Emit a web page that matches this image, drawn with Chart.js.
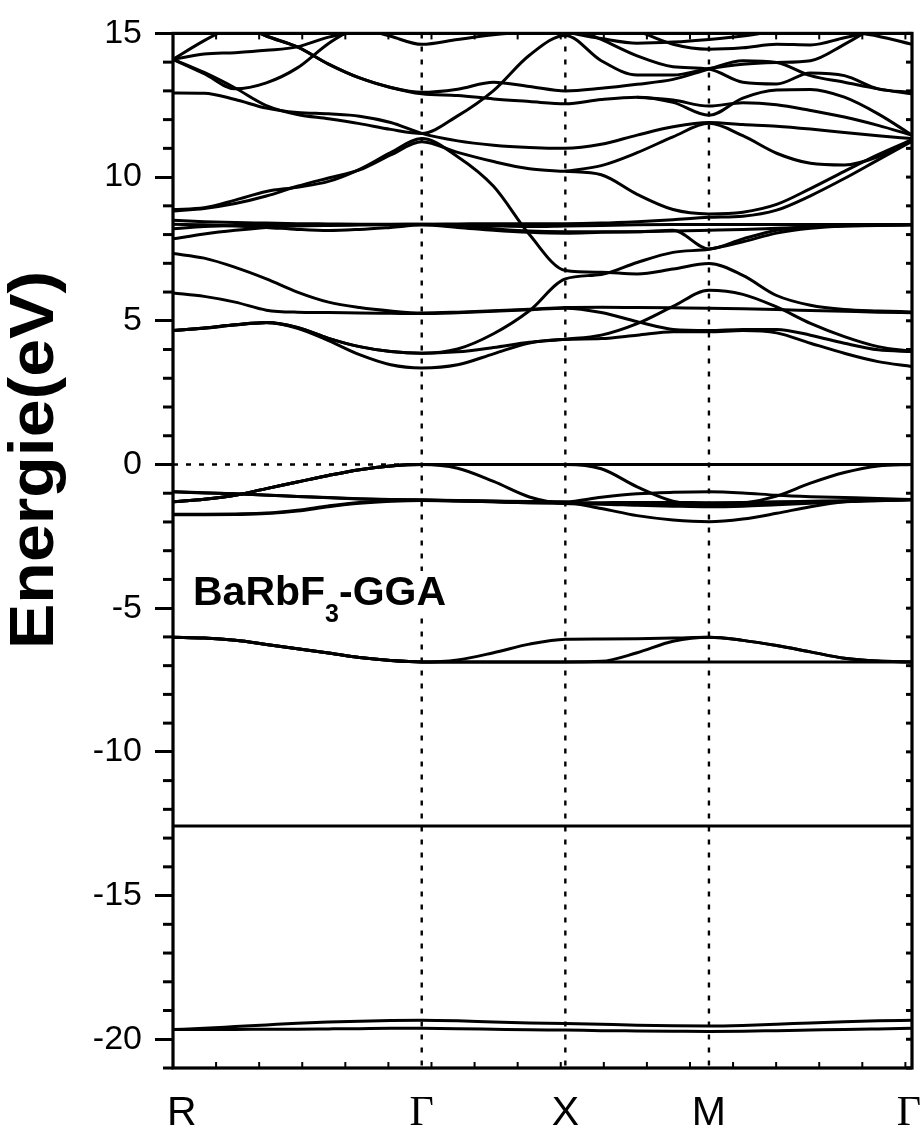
<!DOCTYPE html>
<html>
<head>
<meta charset="utf-8">
<title>BaRbF3 band structure</title>
<script src="https://cdn.jsdelivr.net/npm/chart.js@4.4.1/dist/chart.umd.min.js"></script>
<style>
  html, body { margin: 0; padding: 0; background: #fff; }
  canvas { display: block; }
</style>
</head>
<body>
<canvas id="bands" width="921" height="1129"></canvas>
<script>
// k-path R - Γ - X - M - Γ (units of 2π/a), sample positions along the path
const kPath = [0, 0.217, 0.433, 0.65, 0.866, 1.083, 1.299, 1.516, 1.732,
               1.982, 2.232, 2.482, 2.732,
               2.982, 3.232, 3.482, 3.732,
               3.968, 4.203, 4.439, 4.675, 4.910, 5.146];
const kSym = [0, 1.732, 2.732, 3.732, 5.146];
const kLabels = ['R', 'Γ', 'X', 'M', 'Γ'];
const yTicks = [-20, -15, -10, -5, 0, 5, 10, 15];

// semi-core levels
const core1 = [-19.66,-19.66,-19.66,-19.65,-19.65,-19.64,-19.63,-19.62,-19.62, -19.63,-19.65,-19.67,-19.68, -19.70,-19.71,-19.72,-19.73, -19.72,-19.70,-19.68,-19.66,-19.64,-19.62];
const core2 = [-19.66,-19.62,-19.56,-19.50,-19.44,-19.40,-19.37,-19.35,-19.34, -19.36,-19.40,-19.43,-19.45, -19.48,-19.51,-19.53,-19.54, -19.52,-19.48,-19.43,-19.39,-19.36,-19.34];
const core3 = [-12.58,-12.58,-12.58,-12.58,-12.58,-12.58,-12.58,-12.58,-12.58, -12.58,-12.58,-12.58,-12.58, -12.58,-12.58,-12.58,-12.58, -12.58,-12.58,-12.58,-12.58,-12.58,-12.58];

// F 2s-like group around -6 eV
const s1 = [-6.01,-6.04,-6.12,-6.26,-6.41,-6.56,-6.72,-6.82,-6.87, -6.87,-6.87,-6.87,-6.87, -6.87,-6.87,-6.87,-6.87, -6.87,-6.87,-6.87,-6.87,-6.87,-6.87];
const s2 = [-6.01,-6.04,-6.12,-6.26,-6.41,-6.56,-6.72,-6.82,-6.87, -6.80,-6.55,-6.25,-6.08, -6.07,-6.06,-6.04,-6.01, -6.12,-6.30,-6.52,-6.74,-6.84,-6.87];
const s3 = [-6.01,-6.04,-6.12,-6.26,-6.41,-6.56,-6.72,-6.82,-6.87, -6.87,-6.87,-6.87,-6.87, -6.85,-6.55,-6.15,-6.01, -6.12,-6.30,-6.52,-6.74,-6.84,-6.87];

// valence bands
const v1 = [-1.30,-1.21,-1.07,-0.84,-0.61,-0.38,-0.18,-0.05,0, 0,0,0,0, 0,0,0,0, 0,0,0,0,0,0];
const v2 = [-1.30,-1.21,-1.07,-0.84,-0.61,-0.38,-0.18,-0.05,0, -0.13,-0.59,-1.13,-1.36, -1.38,-1.42,-1.45,-1.47, -1.45,-1.40,-1.35,-1.30,-1.26,-1.22];
const v3 = [-1.30,-1.21,-1.07,-0.84,-0.61,-0.38,-0.18,-0.05,0, 0,0,0,0, -0.15,-0.78,-1.28,-1.41, -1.35,-1.10,-0.65,-0.28,-0.05,0];
const v4 = [-0.95,-0.99,-1.02,-1.07,-1.11,-1.16,-1.20,-1.22,-1.24, -1.25,-1.27,-1.29,-1.30, -1.14,-1.02,-0.97,-0.95, -0.99,-1.07,-1.12,-1.15,-1.18,-1.22];
const v5 = [-1.73,-1.73,-1.72,-1.69,-1.59,-1.44,-1.32,-1.26,-1.24, -1.26,-1.28,-1.30,-1.32, -1.53,-1.78,-1.93,-1.99, -1.90,-1.70,-1.47,-1.30,-1.24,-1.22];
const v6 = [-1.75,-1.75,-1.74,-1.71,-1.62,-1.47,-1.35,-1.28,-1.25, -1.27,-1.30,-1.33,-1.35, -1.36,-1.38,-1.40,-1.42, -1.40,-1.36,-1.32,-1.28,-1.25,-1.23];
const v7 = [-0.95,-0.98,-1.02,-1.06,-1.11,-1.15,-1.19,-1.22,-1.24, -1.27,-1.30,-1.33,-1.34, -1.33,-1.32,-1.32,-1.33, -1.32,-1.30,-1.28,-1.26,-1.24,-1.23];

// conduction bands, 3 - 8 eV
const cb1 = [4.66,4.74,4.85,4.93,4.74,4.31,3.82,3.47,3.36, 3.47,3.85,4.23,4.35, 4.38,4.50,4.62,4.62, 4.66,4.58,4.22,3.87,3.58,3.41];
const cb2 = [4.66,4.75,4.86,4.94,4.77,4.39,4.10,3.93,3.87, 3.92,4.07,4.25,4.36, 4.50,4.90,5.50,6.06, 5.92,5.48,4.91,4.45,4.10,3.93];
const cb3 = [4.66,4.75,4.86,4.94,4.77,4.39,4.10,3.93,3.87, 4.02,4.55,5.35,6.46, 6.61,7.03,7.38,7.49, 7.75,8.05,8.22,8.30,8.33,8.34];
const cb4 = [5.97,5.85,5.65,5.37,5.30,5.29,5.27,5.26,5.25, 5.28,5.33,5.38,5.44, 5.29,4.97,4.70,4.66, 4.70,4.70,4.50,4.22,3.99,3.93];
const cb5 = [7.34,7.18,6.86,6.46,6.00,5.65,5.46,5.34,5.27, 5.30,5.35,5.40,5.46, 5.47,5.46,5.45,5.44, 5.42,5.39,5.36,5.33,5.30,5.28];

// flat d-like bundle near 8.3 eV
const b1 = [8.50,8.45,8.42,8.40,8.38,8.37,8.36,8.36,8.36, 8.37,8.38,8.38,8.38, 8.40,8.45,8.52,8.60, 8.64,8.85,9.35,9.95,10.60,11.25];
const b2 = [8.36,8.34,8.30,8.25,8.18,8.14,8.18,8.25,8.33, 8.25,8.15,8.08,8.05, 8.08,8.10,8.12,8.15, 8.18,8.22,8.26,8.30,8.32,8.33];
const b3 = [8.20,8.28,8.32,8.33,8.33,8.34,8.35,8.35,8.36, 8.30,8.20,8.12,8.10, 8.10,8.10,8.15,7.50, 7.85,8.15,8.28,8.32,8.34,8.35];
const b4 = [7.85,8.02,8.15,8.25,8.30,8.32,8.33,8.34,8.35, 8.33,8.30,8.28,8.30, 8.32,8.34,8.35,8.35, 8.35,8.35,8.35,8.35,8.35,8.35];

// upper conduction bands, 9 - 15 eV
const u1 = [8.87,8.93,9.20,9.50,9.65,9.85,10.27,10.85,11.34, 10.71,9.68,8.00,6.75, 6.69,6.63,6.80,6.99, 6.58,5.88,5.54,5.39,5.34,5.31];
const u2 = [8.82,8.91,9.08,9.34,9.68,9.97,10.25,10.77,11.23, 10.86,10.54,10.29,10.20, 10.08,9.40,8.87,8.72, 8.78,9.05,9.60,10.20,10.78,11.30];
const u3 = [null,null,null,null,null,null,null,null,null, null,null,null,10.20, 10.40,10.85,11.40,11.87, 11.44,10.83,10.48,10.42,10.71,11.29];
const u4 = [12.93,12.92,12.70,12.40,12.25,12.20,12.12,11.90,11.52, 11.26,11.11,11.03,11.00, 11.14,11.46,11.75,11.90, 11.83,11.77,11.67,11.55,11.44,11.34];
const u5 = [14.10,13.64,13.10,12.49,12.18,12.03,11.86,11.66,11.52, 12.13,13.01,14.24,14.93, 14.05,13.55,13.55,13.78, 13.93,13.99,14.05,14.62,15.30,null];
const u6 = [null,null,15.40,14.91,14.53,13.93,13.45,13.12,12.95, 13.06,13.30,13.15,13.00, 13.09,13.23,13.40,13.76, 14.05,13.99,13.53,13.30,13.07,12.89];
const u7 = [null,null,15.40,14.91,14.53,13.93,13.45,13.12,12.90, 12.84,12.72,12.63,12.55, 12.70,12.78,12.60,12.15, 12.75,13.03,13.05,12.78,12.20,11.46];
const u8 = [null,null,null,null,null,null,null,null,null, null,null,null,null, null,12.78,12.68,12.47, 12.59,12.52,12.32,12.09,11.80,11.46];
const u9 = [null,null,null,null,null,null,null,null,null, null,null,null,15.30, 14.79,14.22,13.84,13.76, 13.30,13.24,13.62,13.53,13.07,12.95];
const u10 = [null,null,null,null,null,null,null,null,null, null,null,null,15.05, 14.82,14.66,14.70,14.79, 14.91,15.10,null,null,null,null];
const u11 = [null,null,null,null,null,null,null,null,null, null,null,null,null, null,15.10,14.62,14.45, 14.50,14.62,14.60,14.85,15.10,null];
const u12 = [null,null,null,null,null,null,null,null,null, null,null,null,null, null,null,null,null, null,null,null,15.10,14.90,14.62];
const u13 = [null,null,null,null,null,null,15.20,14.90,14.62, 14.79,14.95,15.05,null, null,null,null,null, null,null,null,null,null,null];
const u14 = [14.10,14.28,14.33,14.41,14.53,14.87,15.08,null,null, null,null,null,null, null,null,null,null, null,null,null,null,null,null];
const u15 = [14.10,14.75,15.30,null,null,null,null,null,null, null,null,null,null, null,null,null,null, null,null,null,null,null,null];
const u16 = [14.10,13.60,13.07,13.28,13.80,14.65,15.30,null,null, null,null,null,null, null,null,null,null, null,null,null,null,null,null];

const bands = [core1, core2, core3, s1, s2, s3, v1, v2, v3, v4, v5, v6, v7,
               cb1, cb2, cb3, cb4, cb5, b1, b2, b3, b4,
               u1, u2, u3, u4, u5, u6, u7, u8, u9, u10, u11, u12, u13, u14, u15, u16];

const SANS = '"Liberation Sans", Arial, sans-serif';
const SERIF = '"Liberation Serif", "Times New Roman", serif';

function seg(ctx, x1, y1, x2, y2) {
  ctx.beginPath();
  ctx.moveTo(x1, y1);
  ctx.lineTo(x2, y2);
  ctx.stroke();
}

const decor = {
  id: 'decor',
  beforeDatasetsDraw(chart) {
    const { ctx, chartArea: a, scales: { x, y } } = chart;
    ctx.save();
    ctx.strokeStyle = '#000';
    ctx.lineWidth = 2.4;
    ctx.setLineDash([5, 8]);
    // Fermi level
    const y0 = y.getPixelForValue(0);
    seg(ctx, a.left, y0, a.right, y0);
    // high-symmetry points inside the path
    kSym.slice(1, -1).forEach(k => {
      const px = x.getPixelForValue(k);
      seg(ctx, px, a.top, px, a.bottom);
    });
    ctx.restore();
  },
  afterDatasetsDraw(chart) {
    const { ctx, chartArea: a, scales: { x, y } } = chart;
    ctx.save();
    ctx.strokeStyle = '#000';
    ctx.fillStyle = '#000';

    // minor ticks: outside on the left, inside on the right
    ctx.lineWidth = 3;
    for (let e = -21; e <= 15; e++) {
      const py = y.getPixelForValue(e);
      if (e % 5 !== 0) seg(ctx, a.left - 10, py, a.left, py);
      seg(ctx, a.right - 6, py, a.right, py);
    }
    // small inward ticks along top and bottom
    ctx.lineWidth = 2;
    for (let k = 0.3; k < 5.146; k += 0.3) {
      const px = x.getPixelForValue(k);
      seg(ctx, px, a.bottom, px, a.bottom - 6);
      seg(ctx, px, a.top, px, a.top + 6);
    }

    // frame
    ctx.lineWidth = 3.2;
    ctx.strokeRect(a.left, a.top, a.right - a.left, a.bottom - a.top);

    // k-point labels
    ctx.textBaseline = 'alphabetic';
    kLabels.forEach((lab, i) => {
      const px = x.getPixelForValue(kSym[i]);
      ctx.font = lab === 'Γ' ? '42px ' + SERIF : '41px ' + SANS;
      if (i === 0) { ctx.textAlign = 'left'; ctx.fillText(lab, px - 6, 1125); }
      else if (i === kLabels.length - 1) { ctx.textAlign = 'right'; ctx.fillText(lab, px + 9, 1125); }
      else { ctx.textAlign = 'center'; ctx.fillText(lab, px, 1125); }
    });

    // axis title
    ctx.save();
    ctx.translate(36, 460);
    ctx.rotate(-Math.PI / 2);
    ctx.scale(1.08, 1);
    ctx.textAlign = 'center';
    ctx.textBaseline = 'middle';
    ctx.font = 'bold 63px ' + SANS;
    ctx.fillText('Energie(eV)', 0, 0);
    ctx.restore();

    // compound label with subscript
    const tx = a.left + 20, base = 605;
    ctx.fillStyle = '#fff';
    ctx.fillRect(tx - 4, base - 34, 266, 42);
    ctx.fillStyle = '#000';
    ctx.textAlign = 'left';
    ctx.font = 'bold 41px ' + SANS;
    ctx.fillText('BaRbF', tx, base);
    let cx = tx + ctx.measureText('BaRbF').width;
    ctx.font = 'bold 25px ' + SANS;
    ctx.fillText('3', cx, base + 17);
    cx += ctx.measureText('3').width;
    ctx.font = 'bold 41px ' + SANS;
    ctx.fillText('-GGA', cx, base);
    ctx.restore();
  }
};

new Chart(document.getElementById('bands'), {
  type: 'line',
  data: {
    datasets: bands.map(b => ({
      data: kPath.map((k, i) => ({ x: k, y: b[i] })),
      borderColor: '#000',
      borderWidth: 3,
      pointRadius: 0,
      fill: false,
      cubicInterpolationMode: 'monotone',
      spanGaps: false,
      clip: 0
    }))
  },
  options: {
    responsive: false,
    animation: false,
    devicePixelRatio: 1,
    layout: { padding: { top: 25, right: 9, bottom: 0, left: 0 } },
    plugins: {
      legend: { display: false },
      tooltip: { enabled: false }
    },
    scales: {
      x: {
        type: 'linear',
        min: 0,
        max: 5.146,
        ticks: { display: false },
        grid: { display: false },
        border: { display: false },
        afterFit(scale) { scale.height = 61; }
      },
      y: {
        min: -21,
        max: 15,
        afterBuildTicks(scale) { scale.ticks = yTicks.map(v => ({ value: v })); },
        ticks: {
          color: '#000',
          padding: 13,
          font: { family: SANS, size: 34 }
        },
        grid: {
          display: true,
          drawOnChartArea: false,
          tickLength: 18,
          tickWidth: 3,
          tickColor: '#000'
        },
        border: { display: false },
        afterFit(scale) { scale.width = 173; }
      }
    }
  },
  plugins: [decor]
});
</script>
</body>
</html>
